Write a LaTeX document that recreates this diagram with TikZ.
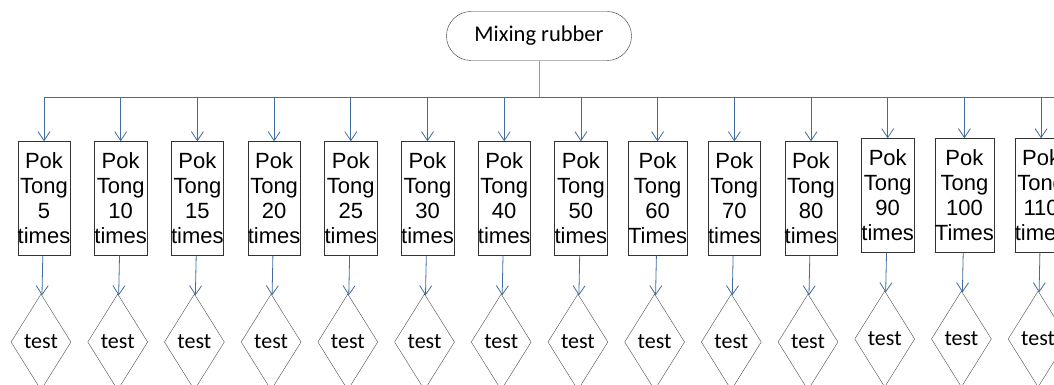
\documentclass[tikz,border=0pt]{standalone}
\usepackage{fontspec}
\setmainfont{Liberation Sans}
\newfontfamily\calibri{Carlito}
\usetikzlibrary{arrows.meta,shapes.geometric}
\definecolor{linkblue}{RGB}{65,108,158}
\definecolor{buslight}{RGB}{130,155,190}
\begin{document}
\begin{tikzpicture}[x=1pt,y=-1pt,
  start/.style={draw=black!80, rounded corners=24.5pt, minimum width=185pt, minimum height=49pt, font=\calibri\fontsize{22.5}{24}\selectfont},
  pokbox/.style={draw=black!80, minimum width=52pt, minimum height=114pt, inner sep=0pt, align=center, font=\fontsize{22}{25}\selectfont},
  testbox/.style={draw=black!70, diamond, aspect=0.625, minimum width=60pt, minimum height=96pt, inner sep=0pt, font=\calibri\fontsize{22}{24}\selectfont},
  link/.style={draw=linkblue, line width=0.8pt, -{Straight Barb[length=9pt,width=12pt]}}]
\clip (0,0) rectangle (1054,385);
\node[start] (mix) at (539,36) {Mixing rubber};
%%%%%%%%%%%%%
\coordinate (busL) at (44,97);
\coordinate (busR) at (1060,97);
\draw[buslight, line width=0.8pt] (mix) -- (mix |- busL);
\draw[linkblue, line width=0.8pt] (busL) -- (busR);
%%%%%%%%%%%%%
\foreach \i/\num/\word/\dy in {0/5/times/0, 1/10/times/0, 2/15/times/0, 3/20/times/0, 4/25/times/0, 5/30/times/0, 6/40/times/0, 7/50/times/0, 8/60/Times/0, 9/70/times/0, 10/80/times/0, 11/90/times/3, 12/100/Times/3, 13/110/times/3} {
  \node[pokbox] (pok\i) at (44+76.7*\i, 198.5-\dy) {Pok\\Tong\\\num\\\word};
  \node[testbox] (test\i) at (41+76.7*\i, 342-\dy) {test};
  \draw[link] (pok\i.north |- busL) -- (pok\i);
  \draw[link] (pok\i) -- (test\i);
}
\end{tikzpicture}
\end{document}
